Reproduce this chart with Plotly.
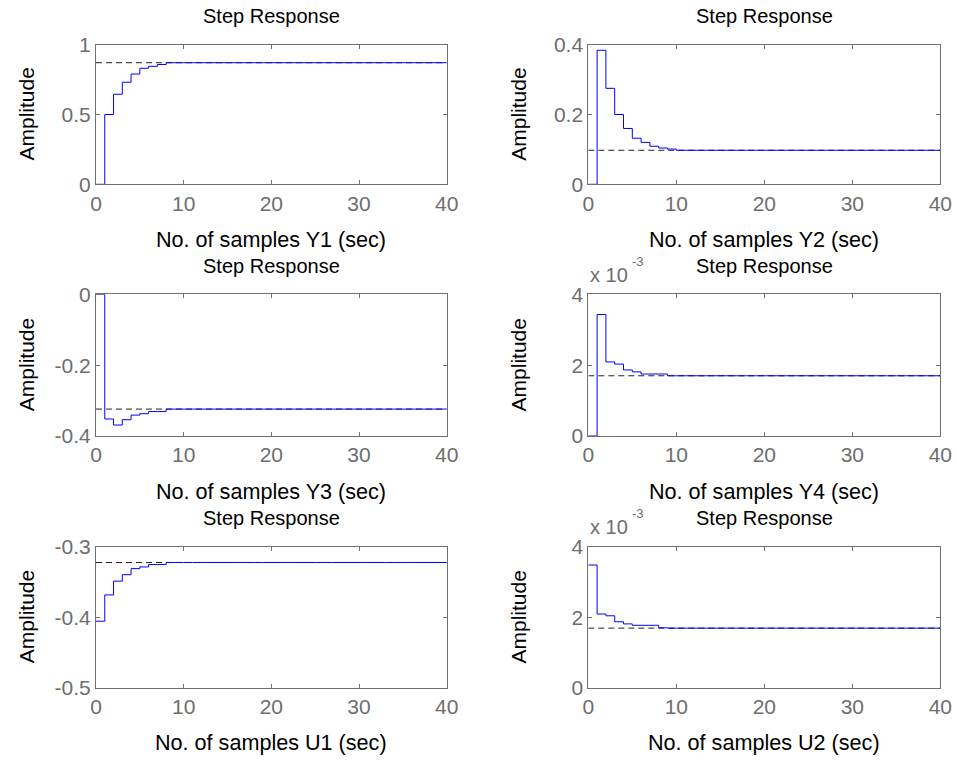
import plotly.graph_objects as go

W, H = 957, 763

# ---- data ----
samples = list(range(41))
y1_transient = [0, 0.50, 0.645, 0.731, 0.790, 0.831, 0.845, 0.858, 0.871]
y1_final = 0.871
y2_transient = [0, 0.384, 0.275, 0.200, 0.160, 0.132, 0.120, 0.109, 0.104, 0.101, 0.0975]
y2_final = 0.0975
y3_transient = [0, -0.352, -0.369, -0.354, -0.341, -0.337, -0.331, -0.331, -0.324]
y3_final = -0.324
y4_transient = [0, 3.43e-3, 2.09e-3, 2.03e-3, 1.865e-3, 1.81e-3, 1.75e-3, 1.75e-3, 1.75e-3, 1.70e-3]
y4_final = 1.70e-3
u1_transient = [-0.4057, -0.3684, -0.3489, -0.3397, -0.3311, -0.3287, -0.3253, -0.3253, -0.3224]
u1_final = -0.3224
u2_transient = [3.48e-3, 2.09e-3, 2.04e-3, 1.87e-3, 1.81e-3, 1.77e-3, 1.77e-3, 1.77e-3, 1.70e-3]
u2_final = 1.69e-3

x_labels = ["No. of samples Y1 (sec)", "No. of samples Y2 (sec)",
            "No. of samples Y3 (sec)", "No. of samples Y4 (sec)",
            "No. of samples U1 (sec)", "No. of samples U2 (sec)"]
x_tickvals = [0, 10, 20, 30, 40]
x_ticktext = ["0", "10", "20", "30", "40"]

y1_ticks = [0, 0.5, 1];        y1_ticktext = ["0", "0.5", "1"]
y2_ticks = [0, 0.2, 0.4];      y2_ticktext = ["0", "0.2", "0.4"]
y3_ticks = [-0.4, -0.2, 0];    y3_ticktext = ["-0.4", "-0.2", "0"]
y4_ticks = [0, 2, 4];          y4_ticktext = ["0", "2", "4"]
u1_ticks = [-0.5, -0.4, -0.3]; u1_ticktext = ["-0.5", "-0.4", "-0.3"]
u2_ticks = [0, 2, 4];          u2_ticktext = ["0", "2", "4"]


def full(trans, final):
    return trans + [final] * (len(samples) - len(trans))


panels = [
    (full(y1_transient, y1_final), y1_final, 1.0, [0, 1], y1_ticks, y1_ticktext, False),
    (full(y2_transient, y2_final), y2_final, 1.0, [0, 0.4], y2_ticks, y2_ticktext, False),
    (full(y3_transient, y3_final), y3_final, 1.0, [-0.4, 0], y3_ticks, y3_ticktext, False),
    (full(y4_transient, y4_final), y4_final, 1e3, [0, 4], y4_ticks, y4_ticktext, True),
    (full(u1_transient, u1_final), u1_final, 1.0, [-0.5, -0.3], u1_ticks, u1_ticktext, False),
    (full(u2_transient, u2_final), u2_final, 1e3, [0, 4], u2_ticks, u2_ticktext, True),
]

# ---- layout geometry in pixels ----
col_x = [(96, 446.7), (588.3, 940.3)]
row_y = [(44.7, 184.3), (294.3, 436.0), (546.7, 687.7)]

FONT = "Liberation Sans, Arial, Helvetica, sans-serif"
GRAY = "#6e6e6e"
AX = "#707070"

fig = go.Figure()
layout = dict(
    width=W, height=H, autosize=False,
    margin=dict(l=0, r=0, t=0, b=0, pad=0, autoexpand=False),
    paper_bgcolor="white", plot_bgcolor="white", showlegend=False,
    font=dict(family=FONT, size=20, color=GRAY),
)
annotations = []


def px(x):
    return x / W


def py(y):
    return 1 - y / H


for i, (vals, final, scale, yr, yt, ytt, expo) in enumerate(panels):
    r, c = divmod(i, 2)
    n = i + 1
    xa = "xaxis" if n == 1 else f"xaxis{n}"
    ya = "yaxis" if n == 1 else f"yaxis{n}"
    xr = "x" if n == 1 else f"x{n}"
    yref = "y" if n == 1 else f"y{n}"
    x0, x1 = col_x[c]
    yt0, yb0 = row_y[r]
    layout[xa] = dict(
        domain=[px(x0), px(x1)], anchor=yref, range=[0, 40], automargin=False,
        tickvals=x_tickvals, ticktext=x_ticktext,
        ticks="inside", ticklen=4, tickcolor=AX, tickwidth=1,
        showline=True, linecolor=AX, linewidth=1, mirror="allticks",
        showgrid=False, zeroline=False,
        tickfont=dict(family=FONT, size=21, color=GRAY),
    )
    layout[ya] = dict(
        domain=[py(yb0), py(yt0)], anchor=xr, range=yr, automargin=False,
        tickvals=yt, ticktext=ytt,
        ticks="inside", ticklen=4, tickcolor=AX, tickwidth=1,
        showline=True, linecolor=AX, linewidth=1, mirror="allticks",
        showgrid=False, zeroline=False,
        tickfont=dict(family=FONT, size=21, color=GRAY),
    )
    # steady-state dashed line
    fig.add_trace(go.Scatter(
        x=[samples[0], samples[-1]], y=[final * scale, final * scale],
        mode="lines", line=dict(color="#222222", width=1, dash="6px,4px"),
        xaxis=xr, yaxis=yref, hoverinfo="skip"))
    # step response
    fig.add_trace(go.Scatter(
        x=samples, y=[v * scale for v in vals], mode="lines",
        line=dict(color="#0000ff", width=1, shape="hv"),
        xaxis=xr, yaxis=yref, cliponaxis=False))

    xc = (x0 + x1) / 2
    annotations.append(dict(text="Step Response", x=px(xc), y=py(yt0 - 28.3),
                            xref="paper", yref="paper", showarrow=False,
                            xanchor="center", yanchor="middle",
                            font=dict(family=FONT, size=20, color="black")))
    annotations.append(dict(text=x_labels[i], x=px(xc), y=py(yb0 + 55.1),
                            xref="paper", yref="paper", showarrow=False,
                            xanchor="center", yanchor="middle",
                            font=dict(family=FONT, size=21.6, color="black")))
    annotations.append(dict(text="Amplitude", x=px(x0 - 70), y=py((yt0 + yb0) / 2),
                            xref="paper", yref="paper", showarrow=False,
                            xanchor="center", yanchor="middle", textangle=-90,
                            font=dict(family=FONT, size=21, color="black")))
    if expo:
        annotations.append(dict(text="x 10", x=px(x0 - 0.3), y=py(yt0 - 19.5),
                                xref="paper", yref="paper", showarrow=False,
                                xanchor="left", yanchor="middle",
                                font=dict(family=FONT, size=20, color=GRAY)))
        annotations.append(dict(text="-3", x=px(x0 + 41.5), y=py(yt0 - 33),
                                xref="paper", yref="paper", showarrow=False,
                                xanchor="left", yanchor="middle",
                                font=dict(family=FONT, size=13, color=GRAY)))

layout["annotations"] = annotations
fig.update_layout(**layout)
fig.write_html(
    "out.html",
    post_script="document.body.style.margin='0';document.body.style.overflow='hidden';",
)
